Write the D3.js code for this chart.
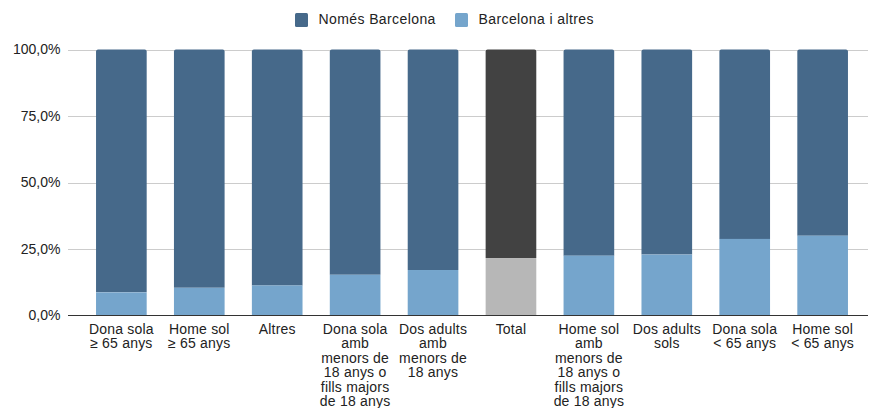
<!DOCTYPE html>
<html><head><meta charset="utf-8">
<script src="https://cdn.jsdelivr.net/npm/d3@7"></script>
<style>body{margin:0;background:#fff}svg{display:block;font-family:"Liberation Sans",Arial,sans-serif}</style>
</head><body><svg id="c" width="870" height="408"></svg>
<script>
const categories = ["Dona sola ≥ 65 anys","Home sol ≥ 65 anys","Altres","Dona sola amb menors de 18 anys o fills majors de 18 anys","Dos adults amb menors de 18 anys","Total","Home sol amb menors de 18 anys o fills majors de 18 anys","Dos adults sols","Dona sola < 65 anys","Home sol < 65 anys"];
const labelLines = [["Dona sola","≥ 65 anys"],["Home sol","≥ 65 anys"],["Altres"],["Dona sola","amb","menors de","18 anys o","fills majors","de 18 anys"],["Dos adults","amb","menors de","18 anys"],["Total"],["Home sol","amb","menors de","18 anys o","fills majors","de 18 anys"],["Dos adults","sols"],["Dona sola","< 65 anys"],["Home sol","< 65 anys"]];
const barcelonaAltres = [8.7,10.4,11.3,15.3,17.1,21.6,22.5,22.9,28.8,30.0];
const nomesBarcelona = barcelonaAltres.map(v => 100 - v);
const seriesNames = ["Només Barcelona","Barcelona i altres"];
const yTicks = [0,25,50,75,100];
const yTickLabels = ["0,0%","25,0%","50,0%","75,0%","100,0%"];

const svg = d3.select("#c");
const x = d3.scaleBand().domain(categories).range([82.4,861.6]).paddingInner(0.35).paddingOuter(0.175);
const y = d3.scaleLinear().domain([0,100]).range([315.5,49.5]);
const colTop = "#46698a", colBot = "#75a5cc", totTop = "#424242", totBot = "#b7b7b7";

svg.append("g").selectAll("line").data(yTicks.filter(d=>d>0)).join("line")
  .attr("x1",68).attr("x2",868).attr("y1",d=>Math.round(y(d))+0.5).attr("y2",d=>Math.round(y(d))+0.5)
  .attr("stroke","#cccccc").attr("stroke-width",1);

svg.append("g").selectAll("text").data(yTicks).join("text")
  .attr("x",60.5).attr("y",d=>y(d)).attr("dy","0.35em").attr("text-anchor","end")
  .attr("font-size",14).attr("fill","#222").text((d,i)=>yTickLabels[i]);

const stackData = categories.map((c,i)=>({c, a:barcelonaAltres[i], n:nomesBarcelona[i], total:c==="Total"}));
const g = svg.append("g");
g.selectAll("path.top").data(stackData).join("path").attr("class","top")
  .attr("fill",d=>d.total?totTop:colTop)
  .attr("d",d=>{
    const x0=x(d.c), w=x.bandwidth(), yt=y(d.a+d.n), yb=y(d.a), r=2;
    return `M${x0},${yb}V${yt+r}Q${x0},${yt} ${x0+r},${yt}H${x0+w-r}Q${x0+w},${yt} ${x0+w},${yt+r}V${yb}Z`;
  });
g.selectAll("rect.bot").data(stackData).join("rect").attr("class","bot")
  .attr("x",d=>x(d.c)).attr("width",x.bandwidth())
  .attr("y",d=>y(d.a)).attr("height",d=>y(0)-y(d.a))
  .attr("fill",d=>d.total?totBot:colBot);

svg.append("line").attr("x1",68).attr("x2",868).attr("y1",315.5).attr("y2",315.5).attr("stroke","#333").attr("stroke-width",1);

const xl = svg.append("g").selectAll("text").data(categories).join("text")
  .attr("x",d=>x(d)+x.bandwidth()/2).attr("y",334).attr("text-anchor","middle")
  .attr("font-size",14).attr("letter-spacing",0.2).attr("fill","#222");
xl.each(function(d,i){
  d3.select(this).selectAll("tspan").data(labelLines[i]).join("tspan")
    .attr("x",x(d)+x.bandwidth()/2).attr("dy",(t,j)=>j===0?0:14.4).text(t=>t);
});

const leg = svg.append("g");
const legItems = [{name:seriesNames[0],color:colTop,x:295},{name:seriesNames[1],color:colBot,x:455}];
leg.selectAll("rect").data(legItems).join("rect").attr("x",d=>d.x).attr("y",13).attr("width",13).attr("height",14).attr("rx",1.5).attr("fill",d=>d.color);
leg.selectAll("text").data(legItems).join("text").attr("x",d=>d.x+23.5).attr("y",24.3)
  .attr("font-size",14).attr("letter-spacing",0.4).attr("fill","#222").text(d=>d.name);
</script></body></html>
